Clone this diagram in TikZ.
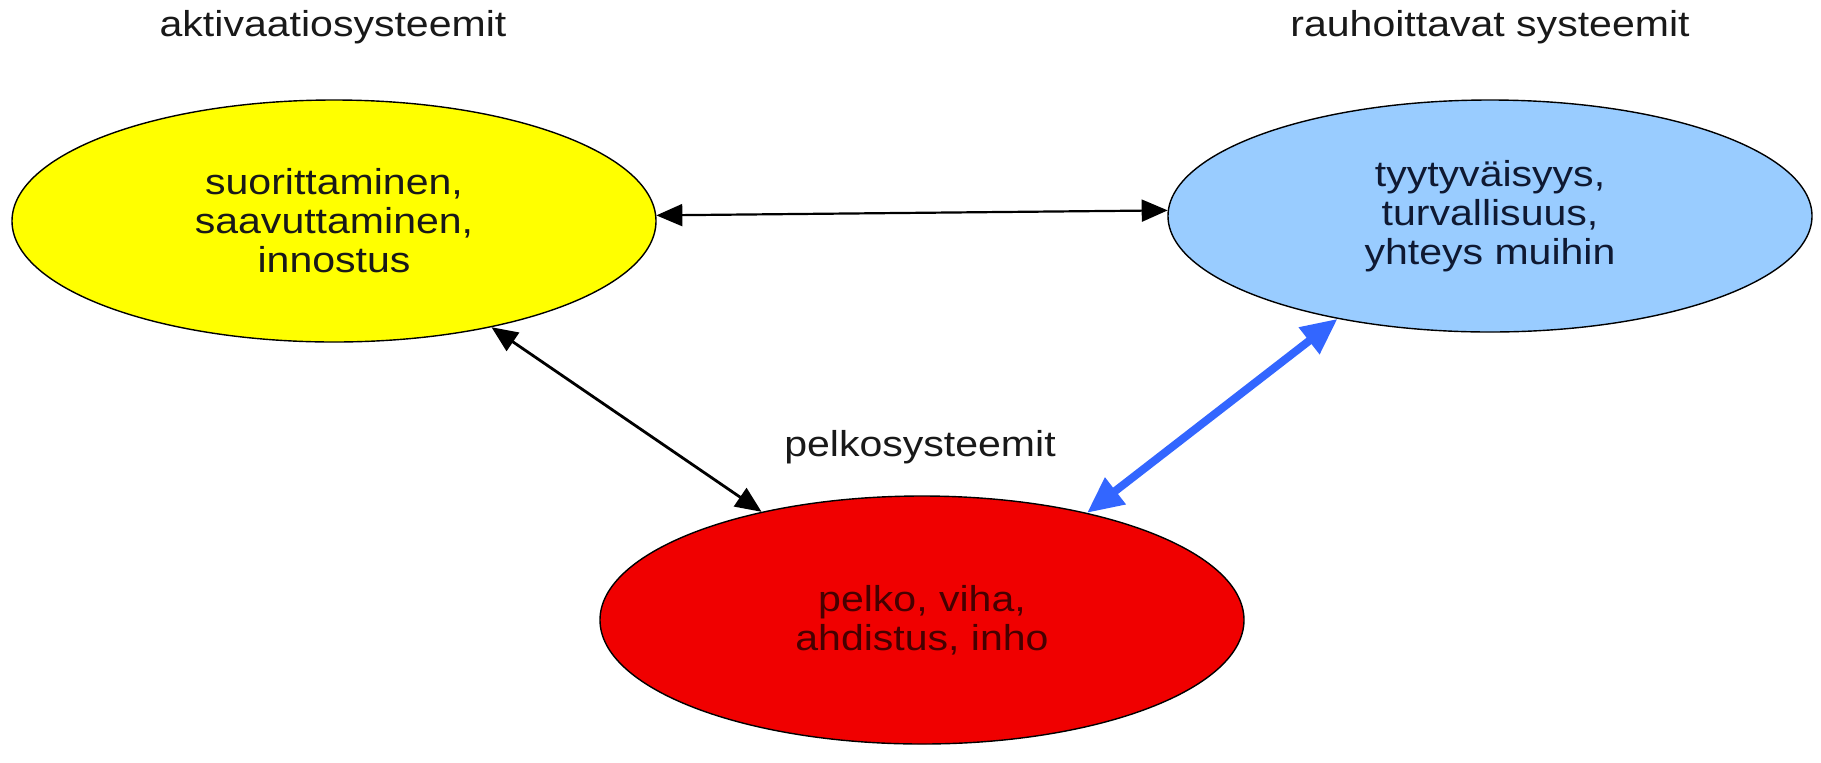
\documentclass[tikz,border=0pt]{standalone}
\usepackage{fontspec}
\setmainfont{Liberation Sans}[FakeStretch=1.14]
\usetikzlibrary{arrows.meta,shapes.geometric}
\definecolor{yel}{RGB}{255,255,0}
\definecolor{sky}{RGB}{153,204,255}
\definecolor{redf}{RGB}{240,0,0}
\definecolor{bluearrow}{RGB}{51,102,255}
\definecolor{txt}{RGB}{25,25,25}
\tikzset{
  sys/.style={ellipse, draw=black, line width=0.7pt, minimum width=322pt, minimum height=121pt, inner sep=0pt, align=center, text=txt},
  lbl/.style={text=txt, inner sep=0pt},
  blk/.style={draw=black, line width=1.1pt, {Triangle[length=13pt,width=11pt]}-{Triangle[length=13pt,width=11pt]}},
  blu/.style={draw=bluearrow, line width=4pt, {Triangle[length=18pt,width=16pt]}-{Triangle[length=18pt,width=16pt]}},
}
\begin{document}
\begin{tikzpicture}[x=0.5pt,y=-0.5pt,font=\fontsize{18}{19.5}\selectfont]
\useasboundingbox (0,0) rectangle (1821,762);
\fill[white] (0,0) rectangle (1821,762);
\node[sys, fill=yel] (Y) at (334,221) {suorittaminen,\\saavuttaminen,\\innostus};
\node[sys, fill=sky, minimum height=116pt, text={rgb,255:red,15;green,25;blue,50}] (B) at (1490,216) {tyytyväisyys,\\turvallisuus,\\yhteys muihin};
\node[sys, fill=redf, minimum height=124pt, text={rgb,255:red,70;green,0;blue,0}] (R) at (922,620) {pelko, viha,\\ahdistus, inho};
\node[lbl] (tY) at (333,27) {aktivaatiosysteemit};
\node[lbl] (tB) at (1490,27) {rauhoittavat systeemit};
\node[lbl] (tR) at (920,447) {pelkosysteemit};
\draw[blk] (Y.1.9) -- (B.179.3);
\draw[blk, line width=1.4pt] (Y.-34) -- (R.146.6);
\draw[blu] (R.33.4) -- (B.214.7);
\end{tikzpicture}
\end{document}
